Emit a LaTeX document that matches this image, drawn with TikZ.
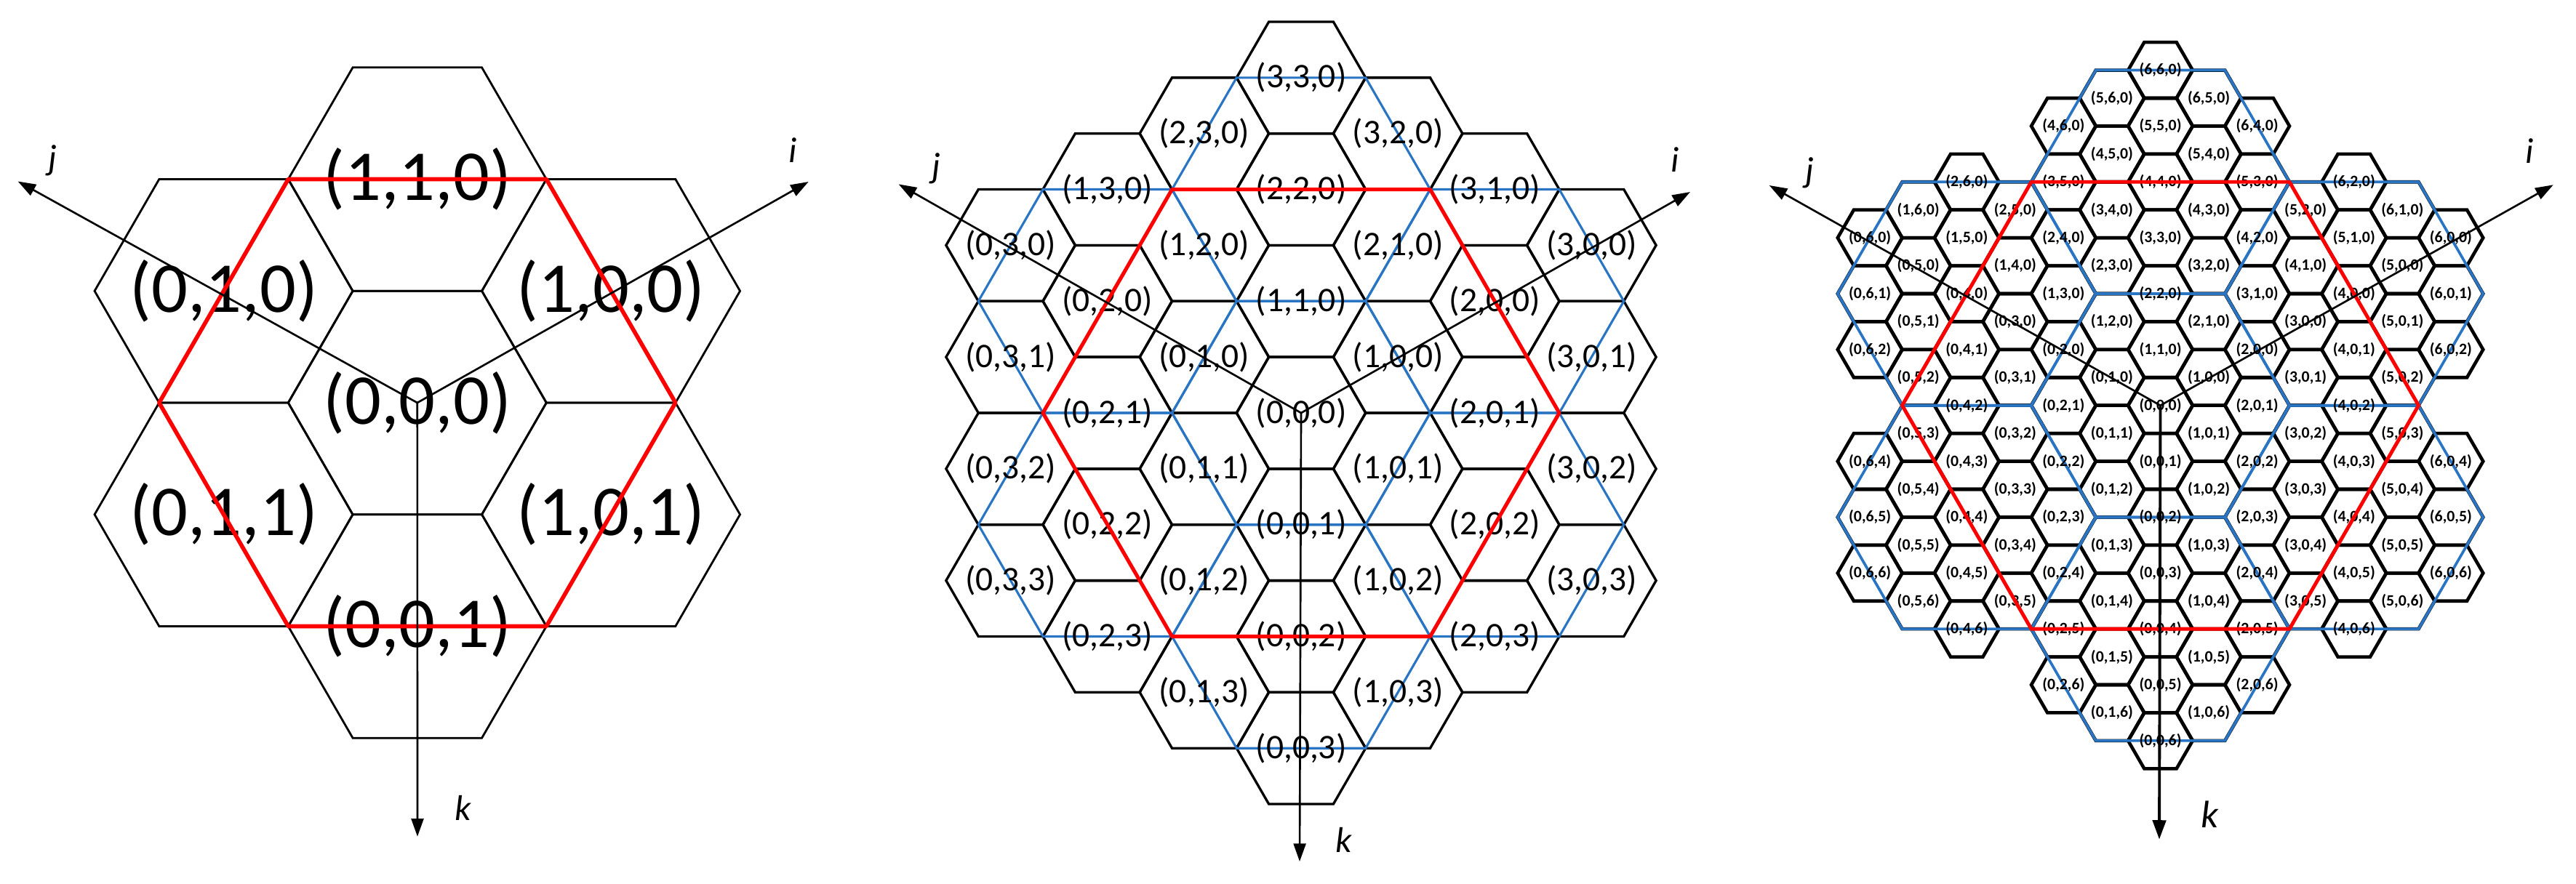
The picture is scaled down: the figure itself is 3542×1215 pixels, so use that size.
\documentclass[tikz,border=0pt]{standalone}
\usepackage{fontspec}
\setmainfont{Carlito}
\usetikzlibrary{arrows.meta}
\definecolor{hxblue}{RGB}{41,117,196}
\definecolor{hxred}{RGB}{255,0,0}
\newcount\hxu \newcount\hxv \newcount\hxdu \newcount\hxdv \newcount\hxs \newcount\hxin
\newcommand\hxtest[2]{%
  \hxdu=\numexpr\hxu-\hxs*(#1)\relax \ifnum\hxdu<0 \hxdu=-\hxdu\fi
  \hxdv=\numexpr\hxv-\hxs*(#2)\relax \ifnum\hxdv<0 \hxdv=-\hxdv\fi
  \ifnum\hxdv>\hxs \else
    \ifnum\numexpr3*\hxdu+\hxdv\relax>\numexpr2*\hxs\relax \else \hxin=1 \fi
  \fi}
\newcommand\hxall{\hxin=0
  \hxtest{0}{0}\hxtest{1}{1}\hxtest{-1}{1}\hxtest{0}{-2}\hxtest{0}{2}\hxtest{1}{-1}\hxtest{-1}{-1}}
% #1 cx, #2 cy, #3 R, #4 n, #5 code
\newcommand\hxloop[5]{%
  \foreach \i in {0,...,#4}{\foreach \j in {0,...,#4}{\foreach \k in {0,...,#4}{%
    \ifnum\numexpr\i*\j*\k\relax=0
      \hxu=\numexpr\i-\j\relax \hxv=\numexpr\i+\j-2*\k\relax
      \hxall
      \ifnum\hxin=1
        \pgfmathsetmacro\hxx{#1+1.5*#3*\the\hxu}%
        \pgfmathsetmacro\hxy{#2-0.8660254*#3*\the\hxv}%
        #5%
      \fi
    \fi}}}}
% #1 cx, #2 cy, #3 R, #4 s, #5 style
\newcommand\hxsuper[5]{%
  \foreach \U/\V in {0/0,1/1,-1/1,0/-2,0/2,1/-1,-1/-1}{%
    \pgfmathsetmacro\hxx{#1+1.5*#3*#4*\U}%
    \pgfmathsetmacro\hxy{#2-0.8660254*#3*#4*\V}%
    \pgfmathsetmacro\hxr{#3*#4}%
    \draw[#5] (\hxx,\hxy) +(0:\hxr) -- +(60:\hxr) -- +(120:\hxr) -- +(180:\hxr) -- +(240:\hxr) -- +(300:\hxr) -- cycle;}}
\newcommand\hxbig[4]{% cx cy radius style
  \draw[#4] (#1,#2) +(0:#3) -- +(60:#3) -- +(120:#3) -- +(180:#3) -- +(240:#3) -- +(300:#3) -- cycle;}
\begin{document}
\begin{tikzpicture}[x=0.01cm,y=-0.01cm,
  hexA/.style={draw=black,line width=0.8pt},
  hexB/.style={draw=black,line width=0.95pt},
  hexC/.style={draw=black,line width=1.3pt},
  blueB/.style={draw=hxblue,line width=0.9pt},
  blueC/.style={draw=hxblue,line width=1.05pt},
  redA/.style={draw=hxred,line width=1.6pt,line join=round},
  redB/.style={draw=hxred,line width=1.45pt,line join=round},
  redC/.style={draw=hxred,line width=1.4pt,line join=round},
  labA/.style={inner sep=0pt,font=\fontsize{28}{30}\selectfont},
  labB/.style={inner sep=0pt,font=\fontsize{13.5}{15}\selectfont},
  labC/.style={inner sep=0pt,font=\bfseries\fontsize{6.2}{7}\selectfont},
  axlab/.style={inner sep=0pt,font=\itshape\fontsize{14}{16}\selectfont},
  axis/.style={line width=0.75pt,-{Triangle[length=7pt,width=4.8pt]}},
  axisk/.style={line width=1.1pt,-{Triangle[length=7.5pt,width=5.2pt]}}]
\useasboundingbox (0,0) rectangle (3542,1215);
% ---------------- panel 1
\hxs=1
\hxloop{573.8}{554}{177.5}{1}{\draw[hexA] (\hxx,\hxy) +(0:177.5) -- +(60:177.5) -- +(120:177.5) -- +(180:177.5) -- +(240:177.5) -- +(300:177.5) -- cycle;}
\hxloop{573.8}{554}{177.5}{1}{\node[labA] (a\i\j\k) at (\hxx,\hxy) {(\i,\j,\k)};}
\hxbig{573.8}{554}{355}{redA}
\coordinate (o1) at (573.8,554);
\coordinate (i1) at (1111.7,250);
\coordinate (j1) at (24.6,249.5);
\coordinate (k1) at (574,1150.7);
\draw[axis] (o1) -- (i1);
\draw[axis] (o1) -- (j1);
\draw[axis] (o1) -- (k1);
\node[axlab] (li1) at (1090,207) {i};
\node[axlab] (lj1) at (72,221) {j};
\node[axlab] (lk1) at (637,1111) {k};
% ---------------- panel 2
\hxs=2
\hxloop{1789}{568}{88.75}{3}{\draw[hexB] (\hxx,\hxy) +(0:88.75) -- +(60:88.75) -- +(120:88.75) -- +(180:88.75) -- +(240:88.75) -- +(300:88.75) -- cycle;}
\hxsuper{1789}{568}{88.75}{2}{blueB}
\hxloop{1789}{568}{88.75}{3}{\node[labB] (b\i\j\k) at (\hxx,\hxy) {(\i,\j,\k)};}
\hxbig{1789}{568}{355}{redB}
\coordinate (o2) at (1789,568);
\coordinate (i2) at (2324,264);
\coordinate (j2) at (1235.6,253.4);
\coordinate (k2) at (1787,1185);
\draw[axis] (o2) -- (i2);
\draw[axis] (o2) -- (j2);
\draw[axis] (o2) -- (k2);
\node[axlab] (li2) at (2303,220) {i};
\node[axlab] (lj2) at (1287,232) {j};
\node[axlab] (lk2) at (1848,1155) {k};
% ---------------- panel 3
\hxs=4
\hxloop{2970.5}{557.7}{44.375}{6}{\draw[hexC] (\hxx,\hxy) +(0:44.375) -- +(60:44.375) -- +(120:44.375) -- +(180:44.375) -- +(240:44.375) -- +(300:44.375) -- cycle;}
\hxsuper{2970.5}{557.7}{44.375}{4}{blueC}
\hxloop{2970.5}{557.7}{44.375}{6}{\node[labC] (c\i\j\k) at (\hxx,\hxy) {(\i,\j,\k)};}
\hxbig{2970.5}{557.7}{355}{redC}
\coordinate (o3) at (2970.5,557.7);
\coordinate (i3) at (3510.7,254.3);
\coordinate (j3) at (2432.7,255);
\coordinate (k3) at (2969,1154.6);
\draw[axis] (o3) -- (i3);
\draw[axis] (o3) -- (j3);
\draw[axisk] (o3) -- (k3);
\node[axlab] (li3) at (3478,208) {i};
\node[axlab] (lj3) at (2488,238) {j};
\node[axlab,font=\itshape\fontsize{15}{17}\selectfont] (lk3) at (3038,1120) {k};
\end{tikzpicture}
\end{document}
